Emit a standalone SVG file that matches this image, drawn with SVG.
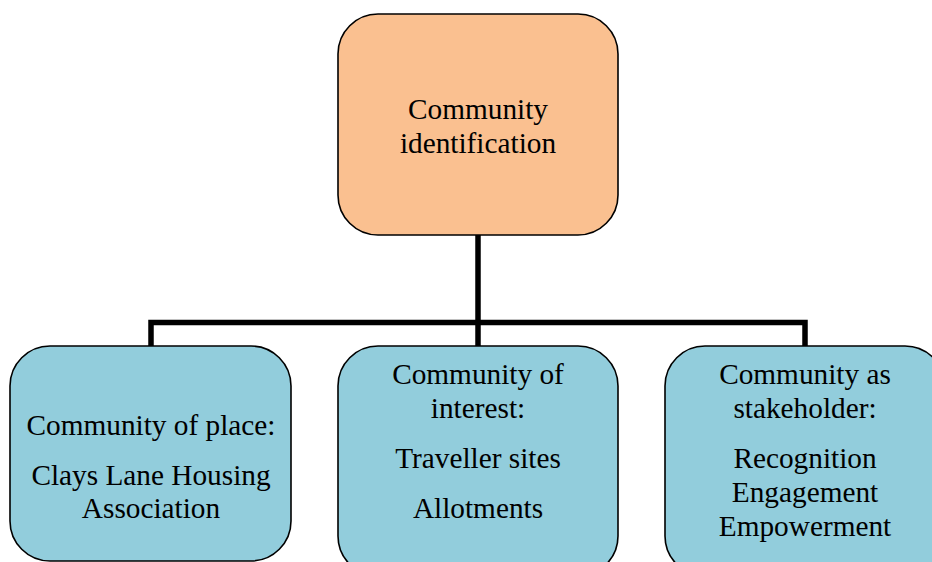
<svg xmlns="http://www.w3.org/2000/svg" width="932" height="562" viewBox="0 0 932 562">
<style>
.box{stroke:#000;stroke-width:1.6}
.top{fill:#FAC090}
.leaf{fill:#92CDDC}
text{font-family:"Liberation Serif","Times New Roman",serif;font-size:29.3px;fill:#000;text-anchor:middle}
.conn{fill:none;stroke:#000;stroke-width:5.5;stroke-linejoin:miter;stroke-linecap:butt}
</style>
<rect width="932" height="562" fill="#fff"/>
<g id="connectors">
<path class="conn" d="M478 235 V346"/>
<path class="conn" d="M151 346 V322.5 H805 V346"/>
</g>
<g id="node-root">
<rect class="box top" x="338" y="14" width="280" height="221" rx="40" ry="40"/>
<text x="478" y="119">Community</text>
<text x="478" y="153">identification</text>
</g>
<g id="node-place">
<rect class="box leaf" x="10" y="346" width="281" height="215" rx="40" ry="40"/>
<text x="151" y="435">Community of place:</text>
<text x="151" y="485">Clays Lane Housing</text>
<text x="151" y="518">Association</text>
</g>
<g id="node-interest">
<rect class="box leaf" x="338" y="346" width="280" height="230" rx="40" ry="40"/>
<text x="478" y="384">Community of</text>
<text x="478" y="418">interest:</text>
<text x="478" y="468">Traveller sites</text>
<text x="478" y="518">Allotments</text>
</g>
<g id="node-stakeholder">
<rect class="box leaf" x="665" y="346" width="280" height="230" rx="40" ry="40"/>
<text x="805" y="384">Community as</text>
<text x="805" y="418">stakeholder:</text>
<text x="805" y="468">Recognition</text>
<text x="805" y="502">Engagement</text>
<text x="805" y="536">Empowerment</text>
</g>
</svg>
